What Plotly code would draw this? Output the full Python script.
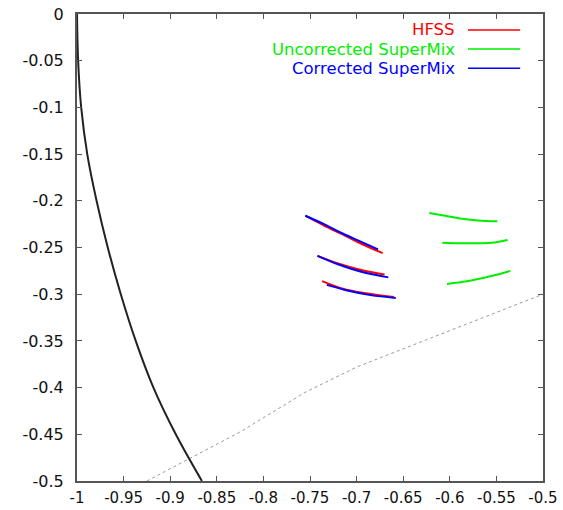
import plotly.graph_objects as go

# ---- data ----
black_y = [0.0, -0.05, -0.10, -0.15, -0.20, -0.25, -0.30, -0.35, -0.40, -0.45, -0.50]
black_x = [-1.0, -0.9988, -0.9955, -0.989, -0.979, -0.967, -0.953, -0.937, -0.918, -0.894, -0.866]

gray_x = [-0.925, -0.825, -0.755, -0.70, -0.60, -0.50]
gray_y = [-0.50, -0.4475, -0.405, -0.378, -0.339, -0.300]

hfss = [
    ([-0.755, -0.735, -0.715, -0.695, -0.672], [-0.216, -0.2265, -0.236, -0.246, -0.256]),
    ([-0.742, -0.72, -0.695, -0.670], [-0.259, -0.267, -0.274, -0.279]),
    ([-0.737, -0.715, -0.69, -0.660], [-0.286, -0.294, -0.299, -0.303]),
]
uncorrected = [
    ([-0.622, -0.605, -0.589, -0.570, -0.549], [-0.213, -0.216, -0.219, -0.221, -0.222]),
    ([-0.608, -0.590, -0.575, -0.555, -0.538], [-0.245, -0.2455, -0.2455, -0.245, -0.242]),
    ([-0.603, -0.587, -0.571, -0.553, -0.535], [-0.289, -0.287, -0.284, -0.280, -0.275]),
]
corrected = [
    ([-0.755, -0.735, -0.715, -0.695, -0.677], [-0.216, -0.225, -0.235, -0.244, -0.252]),
    ([-0.742, -0.72, -0.695, -0.666], [-0.259, -0.268, -0.276, -0.282]),
    ([-0.732, -0.71, -0.685, -0.658], [-0.290, -0.296, -0.301, -0.304]),
]

x_tickvals = [-1, -0.95, -0.9, -0.85, -0.8, -0.75, -0.7, -0.65, -0.6, -0.55, -0.5]
x_ticktext = ["-1", "-0.95", "-0.9", "-0.85", "-0.8", "-0.75", "-0.7", "-0.65", "-0.6", "-0.55", "-0.5"]
y_tickvals = [0, -0.05, -0.1, -0.15, -0.2, -0.25, -0.3, -0.35, -0.4, -0.45, -0.5]
y_ticktext = ["0", "-0.05", "-0.1", "-0.15", "-0.2", "-0.25", "-0.3", "-0.35", "-0.4", "-0.45", "-0.5"]

legend_names = ["HFSS", "Uncorrected SuperMix", "Corrected SuperMix"]
legend_colors = ["#ff0000", "#00ee00", "#0000ff"]

fig = go.Figure()

fig.add_trace(go.Scatter(x=gray_x, y=gray_y, mode="lines",
                         line=dict(color="#999999", width=1, dash="dot"), showlegend=False))
fig.add_trace(go.Scatter(x=black_x, y=black_y, mode="lines", line_shape="spline",
                         line=dict(color="#222222", width=2), showlegend=False))

for series, col in [(hfss, legend_colors[0]), (uncorrected, legend_colors[1]), (corrected, legend_colors[2])]:
    for xs, ys in series:
        fig.add_trace(go.Scatter(x=xs, y=ys, mode="lines", line_shape="spline",
                                 line=dict(color=col, width=2), showlegend=False))

# gnuplot-style key: text then sample line
row_y = [0.966, 0.925, 0.884]
for name, col, yy in zip(legend_names, legend_colors, row_y):
    fig.add_annotation(x=0.815, y=yy, xref="paper", yref="paper", text=name, showarrow=False,
                       xanchor="right", yanchor="middle",
                       font=dict(family="DejaVu Sans", size=16.5, color=col))
    fig.add_shape(type="line", xref="paper", yref="paper", x0=0.839, x1=0.951, y0=yy, y1=yy,
                  line=dict(color=col, width=1.5))

axis_common = dict(showgrid=False, zeroline=False, showline=True, linecolor="#555555", linewidth=2,
                   mirror="ticks", ticks="inside", ticklen=5, tickcolor="#555555", tickwidth=1,
                   automargin=False)

fig.update_layout(
    width=563, height=510,
    margin=dict(l=77, r=20, t=14, b=29),
    plot_bgcolor="white", paper_bgcolor="white",
    showlegend=False,
    xaxis=dict(range=[-1, -0.5], tickvals=x_tickvals, ticktext=x_ticktext, ticklabelstandoff=2,
               tickfont=dict(family="DejaVu Sans", size=15, color="#111111"), **axis_common),
    yaxis=dict(range=[-0.5, 0], tickvals=y_tickvals, ticktext=y_ticktext, ticklabelstandoff=8,
               tickfont=dict(family="DejaVu Sans", size=16, color="#111111"), **axis_common),
)

fig.write_html("out.html")
